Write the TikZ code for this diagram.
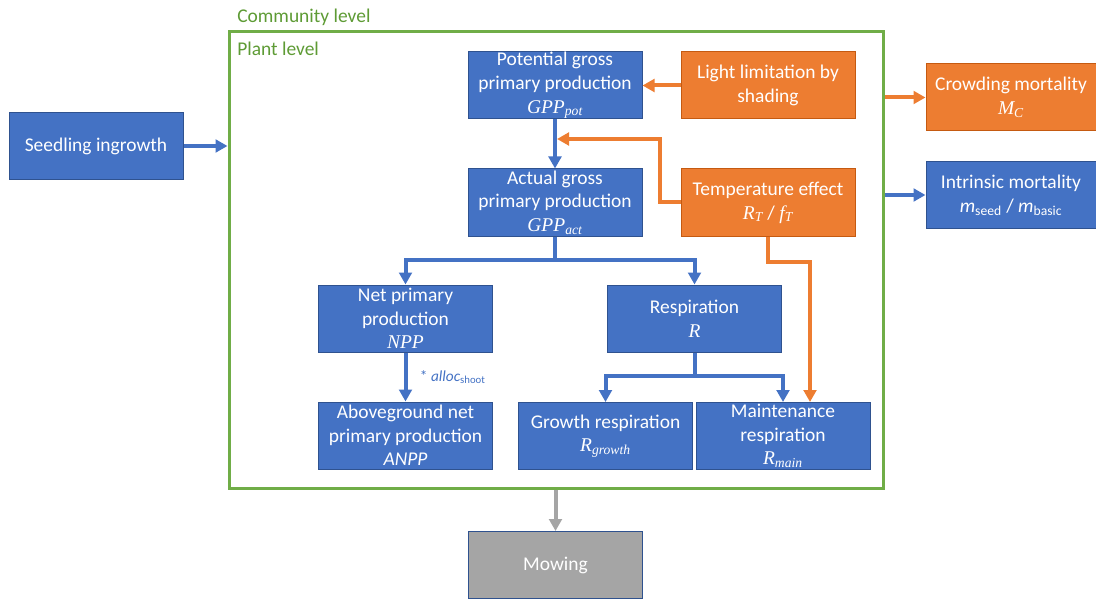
\documentclass[tikz,border=0pt]{standalone}
\usepackage{fontspec}
\setmainfont{Carlito}
\newfontfamily\mathser{Liberation Serif}
\newcommand{\mv}[2]{{\mathser\itshape #1\textsubscript{#2}}}
\newcommand{\ms}[1]{{\mathser\itshape #1}}
\usetikzlibrary{arrows.meta,calc}
\definecolor{cblue}{HTML}{4472C4}
\definecolor{cblueb}{HTML}{2F528F}
\definecolor{corange}{HTML}{ED7D31}
\definecolor{coranb}{HTML}{C55A11}
\definecolor{cgray}{HTML}{A5A5A5}
\definecolor{cgreen}{HTML}{70AD47}
\definecolor{cgreent}{HTML}{5E9B35}
\tikzset{
  box/.style={minimum width=130.5pt, minimum height=50.25pt, inner sep=0pt, align=center, text=white, font=\fontsize{14.6}{17.8}\selectfont, line width=0.75pt},
  bluebox/.style={box, fill=cblue, draw=cblueb},
  orabox/.style={box, fill=corange, draw=coranb},
  graybox/.style={box, fill=cgray, draw=cblueb},
  conn/.style={line width=3pt, -{Triangle[width=9.5pt,length=9pt]}},
  bconn/.style={conn, draw=cblue},
  oconn/.style={conn, draw=corange},
  gconn/.style={conn, draw=cgray},
  bline/.style={line width=3pt, draw=cblue},
  oline/.style={line width=3pt, draw=corange},
  lvl/.style={anchor=west, inner sep=0pt, text=cgreent, font=\fontsize{14.6}{17.8}\selectfont}
}
\begin{document}
\begin{tikzpicture}[x=0.75pt,y=-0.75pt]
\useasboundingbox (0,0) rectangle (1096,599);
% community container
\node[draw=cgreen, line width=2.25pt, minimum width=490.5pt, minimum height=342pt, inner sep=0pt] (comm) at (556,260) {};
\node[lvl] (commlbl) at (237,17) {Community level};
\node[lvl] (plantlbl) at (237,49) {Plant level};
% boxes
\node[bluebox] (seed) at (96,146) {Seedling ingrowth};
\node[bluebox] (gpot) at (555,85.5) {Potential gross\\primary production\\\mv{GPP}{pot}};
\node[orabox] (light) at (768,85.5) {Light limitation by\\shading};
\node[orabox, minimum width=127.5pt] (crowd) at (1011,97.5) {Crowding mortality\\\mv{M}{C}};
\node[bluebox, minimum width=127.5pt] (intr) at (1011,195) {Intrinsic mortality\\\textit{m}\textsubscript{seed} / \textit{m}\textsubscript{basic}};
\node[bluebox] (agpp) at (555,202.5) {Actual gross\\primary production\\\mv{GPP}{act}};
\node[orabox] (temp) at (768,202.5) {Temperature effect\\\mv{R}{T} / \mv{f}{T}};
\node[bluebox] (npp) at (405.5,318.5) {Net primary\\production\\\ms{NPP}};
\node[bluebox] (resp) at (694.5,318.5) {Respiration\\\ms{R}};
\node[bluebox] (anpp) at (405.5,435.5) {Aboveground net\\primary production\\\textit{ANPP}};
\node[bluebox] (grow) at (605.5,436) {Growth respiration\\\mv{R}{growth}};
\node[bluebox] (maint) at (783,436) {Maintenance\\respiration\\\mv{R}{main}};
\node[graybox] (mow) at (555.5,565) {Mowing};
% coordinates
\coordinate (s1) at (555,260);
\coordinate (s2) at (694.5,376);
\coordinate (tg) at (660,139);
\coordinate (tm) at (810,262);
% connectors
\draw[bconn] (seed.east) -- (seed.east -| comm.west);
\draw[oconn] (light.west) -- (gpot.east);
\draw[bconn] (gpot.south) -- (agpp.north);
\draw[oconn, shorten >=1.5pt] (temp.west) -| (tg) -- (tg -| gpot.south);
\draw[oconn] (comm.east |- crowd.west) -- (crowd.west);
\draw[bconn] (comm.east |- intr.west) -- (intr.west);
\draw[bline] (agpp.south) -- (s1);
\draw[bconn] ([xshift=1.5pt]s1) -| (npp.north);
\draw[bconn] ([xshift=-1.5pt]s1) -| (resp.north);
\draw[bconn] (npp.south) -- (anpp.north) node[midway, right=6pt, text=cblue, font=\fontsize{11.5}{13}\selectfont] (alloc) {* \textit{alloc}\textsubscript{shoot}};
\draw[bline] (resp.south) -- (s2);
\draw[bconn] ([xshift=1.5pt]s2) -| (grow.north);
\draw[bconn] ([xshift=-1.5pt]s2) -| (maint.north);
\draw[oline] (temp.south) |- (tm);
\draw[oconn] ([xshift=-1.5pt]tm) -| (tm |- maint.north);
\draw[gconn] (comm.south -| mow.north) -- (mow.north);
\end{tikzpicture}
\end{document}
